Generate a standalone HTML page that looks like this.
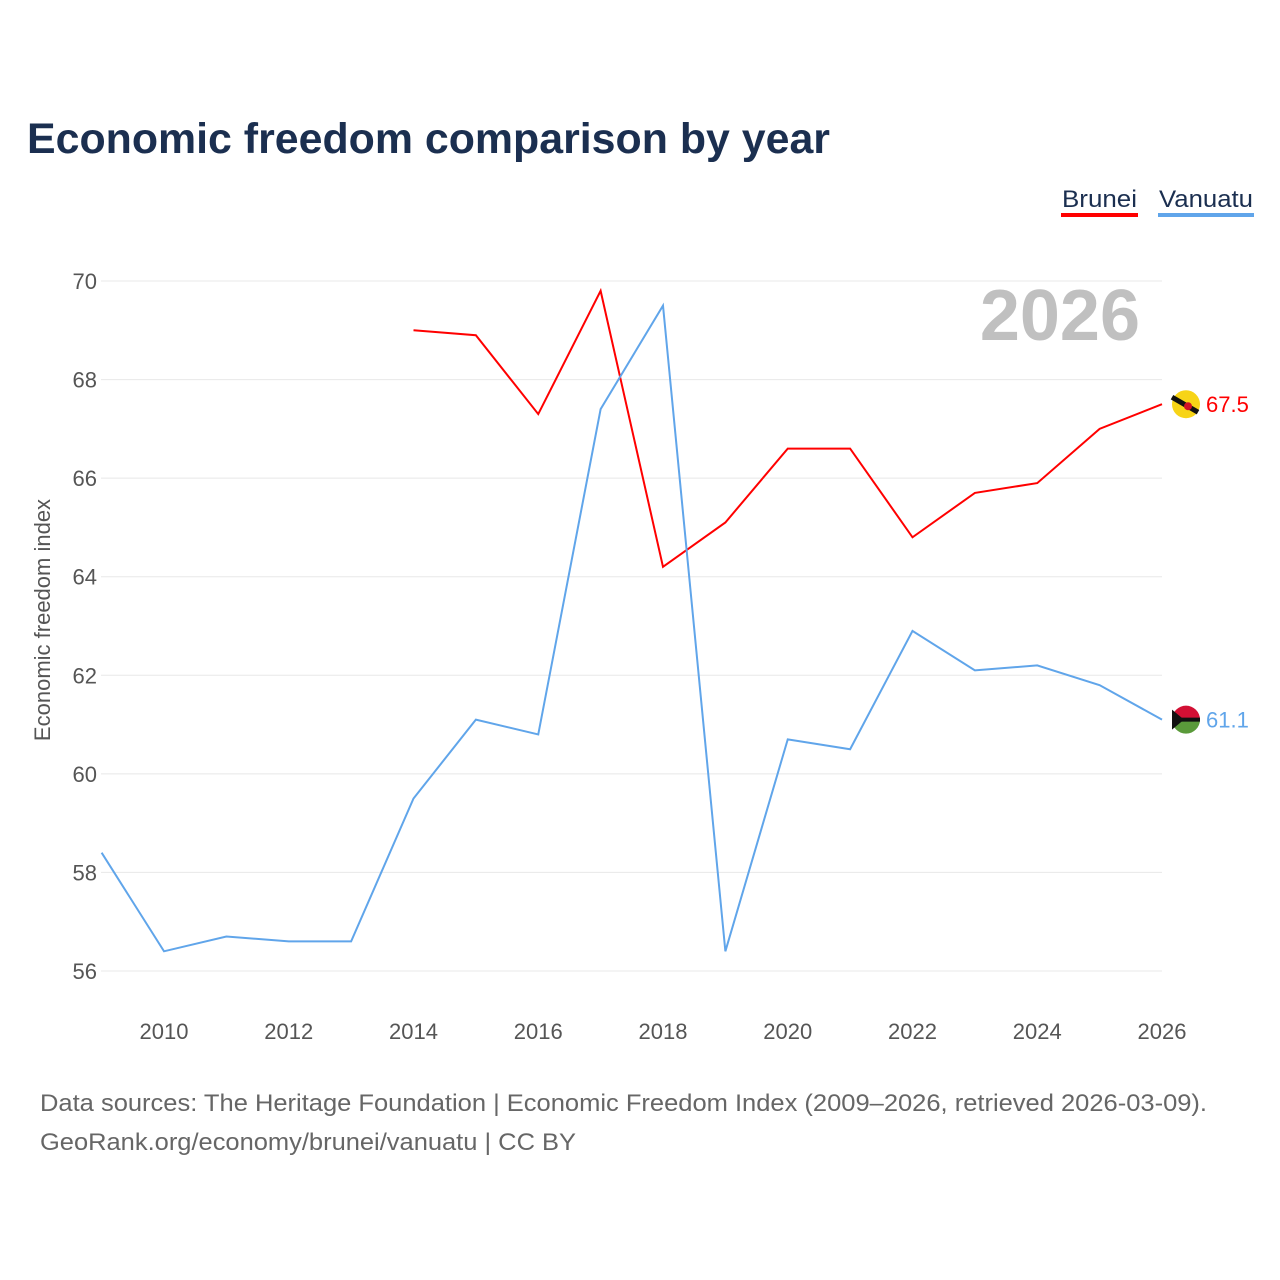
<!DOCTYPE html>
<html><head><meta charset="utf-8">
<style>
body{margin:0;background:#fff;font-family:"Liberation Sans",sans-serif;}
#wrap{position:relative;width:1280px;height:1280px;overflow:hidden;}
</style></head>
<body>
<div id="wrap">
<svg id="chart" width="1280" height="1280" style="position:absolute;left:0;top:0">
  <text x="27" y="153" font-size="43" font-weight="bold" fill="#1b2f50" textLength="803" lengthAdjust="spacingAndGlyphs">Economic freedom comparison by year</text>
  <g>
    <text x="1062" y="207" font-size="24" fill="#1b2f50" textLength="75" lengthAdjust="spacingAndGlyphs">Brunei</text>
    <rect x="1061" y="213" width="77" height="4" fill="#ff0000"/>
    <text x="1159" y="207" font-size="24" fill="#1b2f50" textLength="94" lengthAdjust="spacingAndGlyphs">Vanuatu</text>
    <rect x="1158" y="213" width="96" height="4" fill="#60a5ea"/>
  </g>
  <text x="1140" y="340" font-size="72" font-weight="bold" fill="#c0c0c0" text-anchor="end">2026</text>
  <text transform="translate(50,620) rotate(-90)" font-size="22" fill="#555" text-anchor="middle">Economic freedom index</text>
  <g id="grid"></g>
  <g id="yticks"></g>
  <g id="xticks"></g>
  <g id="series"></g>
  <text x="40" y="1111" font-size="24" fill="#666" textLength="1167" lengthAdjust="spacingAndGlyphs">Data sources: The Heritage Foundation | Economic Freedom Index (2009–2026, retrieved 2026-03-09).</text>
  <text x="40" y="1150" font-size="24" fill="#666" textLength="536" lengthAdjust="spacingAndGlyphs">GeoRank.org/economy/brunei/vanuatu | CC BY</text>
</svg>
</div>
<script>
const years=[2009,2010,2011,2012,2013,2014,2015,2016,2017,2018,2019,2020,2021,2022,2023,2024,2025,2026];
const vanuatu=[58.4,56.4,56.7,56.6,56.6,59.5,61.1,60.8,67.4,69.5,56.4,60.7,60.5,62.9,62.1,62.2,61.8,61.1];
const brunei=[null,null,null,null,null,69.0,68.9,67.3,69.8,64.2,65.1,66.6,66.6,64.8,65.7,65.9,67.0,67.5];
const yTicks=[56,58,60,62,64,66,68,70];
const xTicks=[2010,2012,2014,2016,2018,2020,2022,2024,2026];
const NS="http://www.w3.org/2000/svg";
const xs=y=>164+(y-2010)*62.375;
const ys=v=>971-(v-56)*(690/14);
function mk(tag,attrs,parent){const e=document.createElementNS(NS,tag);for(const k in attrs)e.setAttribute(k,attrs[k]);parent.appendChild(e);return e;}
const grid=document.getElementById('grid'),yt=document.getElementById('yticks'),xt=document.getElementById('xticks'),ser=document.getElementById('series');
yTicks.forEach(v=>{
  const l=mk('line',{x1:101,x2:1162,y1:ys(v),y2:ys(v),stroke:'#e8e8e8','stroke-width':1},grid);
  
  
  const t=mk('text',{x:97,y:ys(v)+8,'font-size':22,fill:'#555','text-anchor':'end'},yt);
  t.textContent=v;
  
  
});
xTicks.forEach(y=>{
  const t=mk('text',{x:xs(y),y:1039,'font-size':22,fill:'#555','text-anchor':'middle'},xt);
  t.textContent=y;
  
  
});
function line(vals,color,name){
  let d='';let last=null;
  vals.forEach((v,i)=>{if(v==null)return;d+=(d?'L':'M')+xs(years[i])+','+ys(v);last=[xs(years[i]),ys(v),v];});
  const p=mk('path',{d:d,fill:'none',stroke:color,'stroke-width':2},ser);
  
  
  return last;
}
const b=line(brunei,'#ff0000','brunei');
const v=line(vanuatu,'#60a5ea','vanuatu');
function endMark(last,color,name,flag){
  const g=mk('g',{},ser);
  
  
  const cx=last[0]+24,cy=last[1];
  if(flag==='brunei'){
    mk('circle',{cx:cx,cy:cy,r:14,fill:'#f7d417'},g);
    mk('line',{x1:cx-14,y1:cy-7,x2:cx+12,y2:cy+8,stroke:'#111','stroke-width':5},g);
    mk('circle',{cx:cx+2,cy:cy+2,r:4,fill:'#cf1126'},g);
  }else{
    mk('path',{d:`M${cx-14},${cy} A14,14 0 0 1 ${cx+14},${cy} Z`,fill:'#d21034'},g);
    mk('path',{d:`M${cx-14},${cy} A14,14 0 0 0 ${cx+14},${cy} Z`,fill:'#5a9a3a'},g);
    mk('rect',{x:cx-14,y:cy-2,width:28,height:4,fill:'#111'},g);
    mk('path',{d:`M${cx-14},${cy-10} L${cx-2},${cy} L${cx-14},${cy+10}Z`,fill:'#111'},g);
  }
  const t=mk('text',{x:cx+20,y:cy+8,'font-size':22,fill:color},g);
  t.textContent=last[2].toFixed(1);
}
endMark(b,'#ff0000','brunei','brunei');
endMark(v,'#60a5ea','vanuatu','vanuatu');
</script>
</body></html>
